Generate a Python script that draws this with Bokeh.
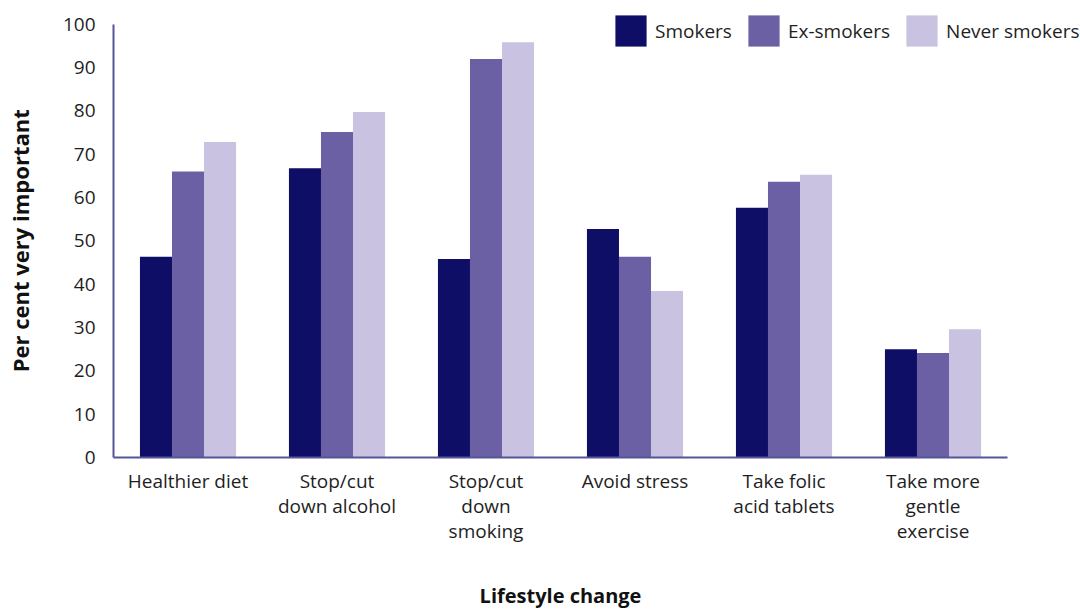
from math import pi
from bokeh.plotting import figure
from bokeh.layouts import row, column
from bokeh.models import ColumnDataSource, Range1d, Legend, LegendItem, FixedTicker
from bokeh.core.properties import value
from bokeh.embed import file_html
from bokeh.resources import INLINE

categories = ["Healthier diet", "Stop/cut\ndown alcohol", "Stop/cut\ndown\nsmoking",
              "Avoid stress", "Take folic\nacid tablets", "Take more\ngentle\nexercise"]
smokers = [46.3, 66.7, 45.8, 52.7, 57.6, 25.0]
ex_smokers = [66.0, 75.1, 91.9, 46.3, 63.6, 24.1]
never_smokers = [72.8, 79.7, 95.8, 38.4, 65.2, 29.6]
series = ["Smokers", "Ex-smokers", "Never smokers"]
colors = ["#0e0e66", "#6b60a3", "#c9c3e1"]
y_ticks = list(range(0, 101, 10))
x_title = "Lifestyle change"
y_title = "Per cent very important"

FONT = "Open Sans"
TXT = "#1e1e1e"
AXC = "#55559a"

YW = 40                    # width of the strip holding the y title
W, H = 1040, 580           # main chart
XH = 29                    # height of the strip holding the x title
BL, BR, BT, BB = 73, 0, 9, 123
frame_w = W - BL - BR
frame_h = H - BT - BB
cat_px = 149.0
y_px = 433.5 / 100.0
x_end = frame_w / cat_px
y_end = frame_h / y_px

n = len(categories)
centers = [i + 0.5 for i in range(n)]

x_range = Range1d(0, x_end)
y_range = Range1d(0, y_end)


def bare(fig):
    fig.outline_line_color = None
    fig.grid.visible = False
    fig.background_fill_color = "white"
    fig.border_fill_color = "white"


p = figure(x_range=x_range, y_range=y_range, width=W, height=H,
           output_backend="svg", toolbar_location=None, min_border=0,
           min_border_left=BL, min_border_right=BR, min_border_top=BT, min_border_bottom=BB)
bare(p)

bw = 0.215
offsets = [-bw, 0.0, bw]
renderers = []
for vals, off, c in zip([smokers, ex_smokers, never_smokers], offsets, colors):
    src = ColumnDataSource(dict(x=[cx + off for cx in centers], top=vals))
    r = p.vbar(x="x", top="top", width=bw, source=src, fill_color=c, line_color=None)
    renderers.append(r)

legend = Legend(items=[LegendItem(label=s, renderers=[r]) for s, r in zip(series, renderers)],
                orientation="horizontal", location=(498, 407),
                glyph_width=39, glyph_height=39, label_standoff=5, spacing=12,
                padding=0, margin=0, border_line_color=None, background_fill_alpha=0,
                label_text_font=FONT, label_text_font_size="19px", label_text_color=TXT)
p.add_layout(legend, "center")

# y axis
p.yaxis.ticker = FixedTicker(ticks=y_ticks)
p.yaxis.bounds = (0, 100)
p.yaxis.major_tick_out = 0
p.yaxis.major_tick_in = 0
p.yaxis.minor_tick_out = 0
p.yaxis.minor_tick_in = 0
p.yaxis.axis_line_color = AXC
p.yaxis.axis_line_width = 2
p.yaxis.major_label_text_font = FONT
p.yaxis.major_label_text_font_size = "19px"
p.yaxis.major_label_text_color = TXT
p.yaxis.major_label_standoff = 18

# x axis
p.xaxis.ticker = FixedTicker(ticks=centers)
p.xaxis.major_label_overrides = {c: lab for c, lab in zip(centers, categories)}
p.xaxis.bounds = (0, n)
p.xaxis.major_tick_out = 0
p.xaxis.major_tick_in = 0
p.xaxis.minor_tick_out = 0
p.xaxis.minor_tick_in = 0
p.xaxis.axis_line_color = AXC
p.xaxis.axis_line_width = 2
p.xaxis.major_label_text_font = FONT
p.xaxis.major_label_text_font_size = "19px"
p.xaxis.major_label_text_line_height = 0.97
p.xaxis.major_label_text_color = TXT
p.xaxis.major_label_standoff = 10

# x title strip: shares the chart's x scale, title centred under the six groups
px = figure(x_range=x_range, y_range=Range1d(0, XH), width=W, height=XH,
            output_backend="svg", toolbar_location=None, min_border=0,
            min_border_left=BL, min_border_right=BR,
            x_axis_location=None, y_axis_location=None)
bare(px)
px.text(x=[n / 2], y=[14], text=[x_title], text_align="center", text_baseline="alphabetic",
        text_font=value(FONT), text_font_size="20px", text_font_style="bold",
        text_color="#111111")

# y title strip: shares the chart's y scale, title centred on the 0-100 axis
py = figure(x_range=Range1d(0, YW), y_range=y_range, width=YW, height=H,
            output_backend="svg", toolbar_location=None, min_border=0,
            min_border_top=BT, min_border_bottom=BB,
            x_axis_location=None, y_axis_location=None)
bare(py)
py.text(x=[19], y=[(y_ticks[0] + y_ticks[-1]) / 2], text=[y_title], angle=pi / 2,
        text_align="center", text_baseline="middle",
        text_font=value(FONT), text_font_size="22px", text_font_style="bold",
        text_color="#111111")

layout = row(py, column(p, px, spacing=0), spacing=0)
open("out.html", "w").write(file_html(layout, INLINE))
